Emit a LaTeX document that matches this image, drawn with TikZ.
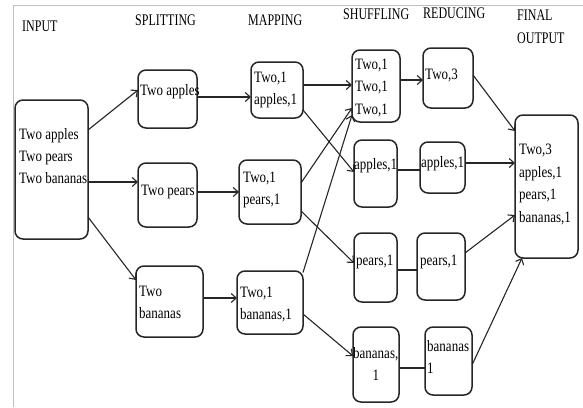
\documentclass[tikz,border=0pt]{standalone}
\usepackage{fontspec}
\setmainfont{Liberation Serif}
\usetikzlibrary{arrows.meta}
\newcommand{\bt}[1]{\scalebox{1}[1.22]{\begin{tabular}{@{}l@{}}#1\end{tabular}}}
\newcommand{\ct}[1]{\scalebox{1}[1.22]{\begin{tabular}{@{}c@{}}#1\end{tabular}}}
\newcommand{\hd}[1]{\scalebox{1}[1.35]{\begin{tabular}{@{}l@{}}#1\end{tabular}}}
\newcommand{\bx}[5]{\node[box, minimum width={(#4-#2)*1pt}, minimum height={(#5-#3)*1pt}] (#1) at ({(#2+#4)/2},{(#3+#5)/2}) {};}
\tikzset{
  box/.style={draw=black!85, rounded corners=8pt, line width=1.5pt, inner sep=0pt, outer sep=0pt},
  txt/.style={inner sep=0pt, anchor=west, font=\fontsize{13}{18.4}\selectfont},
  ttl/.style={inner sep=0pt, anchor=west, font=\fontsize{12}{16}\selectfont},
  arr/.style={draw=black!85, line width=1.1pt, -{Straight Barb[length=5pt,width=9pt]}},
  lnk/.style={draw=black!85, line width=1.1pt},
  frame/.style={draw=black!25, line width=1pt}
}
\begin{document}
\begin{tikzpicture}[x=1pt,y=-1pt]
\useasboundingbox (0,0) rectangle (583,407);
\draw[frame] (13,407) -- (13,5) -- (583,5);
% headings
\node[ttl] (hin) at (22,27) {\hd{INPUT}};
\node[ttl] (hsp) at (135,21.5) {\hd{SPLITTING}};
\node[ttl] (hma) at (248,21) {\hd{MAPPING}};
\node[ttl] (hsh) at (343,15.5) {\hd{SHUFFLING}};
\node[ttl] (hre) at (423,14.5) {\hd{REDUCING}};
\node[ttl] (hfo) at (517,28) {\hd{FINAL\\[1pt]OUTPUT}};
% boxes
\bx{in}{15}{100}{88}{239}
\bx{s1}{138}{70}{197}{128}
\bx{s2}{138}{163}{197}{227}
\bx{s3}{136}{266}{203}{337}
\bx{m1}{251}{62}{303}{118}
\bx{m2}{239}{160}{301}{224}
\bx{m3}{237}{271}{303}{334}
\bx{sh1}{352}{50}{400}{122}
\bx{sh2}{354}{140}{397}{207}
\bx{sh3}{354}{233}{397}{302}
\bx{sh4}{353}{327}{399}{402}
\bx{r1}{423}{48}{473}{108}
\bx{r2}{420}{142}{465}{193}
\bx{r3}{417}{233}{465}{300}
\bx{r4}{425}{327}{472}{395}
\bx{fo}{515}{115}{578}{258}
% texts
\node[txt] (tin) at (19,157) {\bt{Two apples\\Two pears\\Two bananas}};
\node[txt] (ts1) at (140,91) {\bt{Two apples}};
\node[txt] (ts2) at (141,191) {\bt{Two pears}};
\node[txt] (ts3) at (139,303) {\bt{Two\\bananas}};
\node[txt] (tm1) at (254,89) {\bt{Two,1\\apples,1}};
\node[txt] (tm2) at (243,189) {\bt{Two,1\\pears,1}};
\node[txt] (tm3) at (240,304) {\bt{Two,1\\bananas,1}};
\node[txt] (tsh1) at (355,87.5) {\bt{Two,1\\Two,1\\Two,1}};
\node[txt] (tsh2) at (354,165) {\bt{apples,1}};
\node[txt] (tsh3) at (356,261) {\bt{pears,1}};
\node[txt] (tsh4) at (353,365) {\ct{bananas,\\1}};
\node[txt] (tr1) at (425,75) {\bt{Two,3}};
\node[txt] (tr2) at (421,163) {\bt{apples,1}};
\node[txt] (tr3) at (420,261) {\bt{pears,1}};
\node[txt] (tr4) at (427,358) {\bt{bananas\\1}};
\node[txt] (tfo) at (519,184) {\bt{Two,3\\apples,1\\pears,1\\bananas,1}};
% connectors
\draw[arr] ([yshift=-30pt]in.north east) -- ([yshift=9pt]s1.west);
\draw[arr] ([yshift=-12.5pt]in.east) -- ([yshift=13pt]s2.west);
\draw[arr] ([yshift=-47.5pt]in.east) -- ([yshift=21.5pt]s3.west);
\draw[arr] ([yshift=2pt]s1.east) -- ([yshift=-7pt]m1.west);
\draw[arr] ([yshift=3pt]s2.east) -- (m2.west);
\draw[arr] ([yshift=3.5pt]s3.east) -- ([yshift=4.5pt]m3.west);
\draw[arr] ([yshift=5pt]m1.east) -- ([yshift=1pt]sh1.west);
\draw[arr] ([yshift=-20pt]m1.east) -- ([yshift=1.5pt]sh2.west);
\draw[arr] ([yshift=9pt]m2.east) -- ([yshift=-22pt]sh1.west);
\draw[arr] ([yshift=30pt]m3.east) -- ([yshift=-29pt]sh1.west);
\draw[arr] ([yshift=-19pt]m2.east) -- ([yshift=4.5pt]sh3.west);
\draw[arr] ([yshift=-11.5pt]m3.east) -- ([yshift=8.5pt]sh4.west);
\draw[arr] ([yshift=6pt]sh1.east) -- ([yshift=-2pt]r1.west);
\draw[lnk] ([yshift=3.5pt]sh2.east) -- ([yshift=-2.5pt]r2.west);
\draw[lnk] ([yshift=-2.5pt]sh3.east) -- ([yshift=-3.5pt]r3.west);
\draw[lnk, line width=2pt] ([yshift=-3.5pt]sh4.east) -- ([yshift=-7pt]r4.west);
\draw[arr] ([yshift=3pt]r1.east) -- ([yshift=-16pt]fo.north west);
\draw[arr] ([yshift=4.5pt]r2.east) -- ([yshift=23.5pt]fo.west);
\draw[arr] ([yshift=13.5pt]r3.east) -- ([yshift=-28.5pt]fo.west);
\draw[arr] ([yshift=-4pt]r4.east) -- ([xshift=7pt]fo.south west);
\end{tikzpicture}
\end{document}
